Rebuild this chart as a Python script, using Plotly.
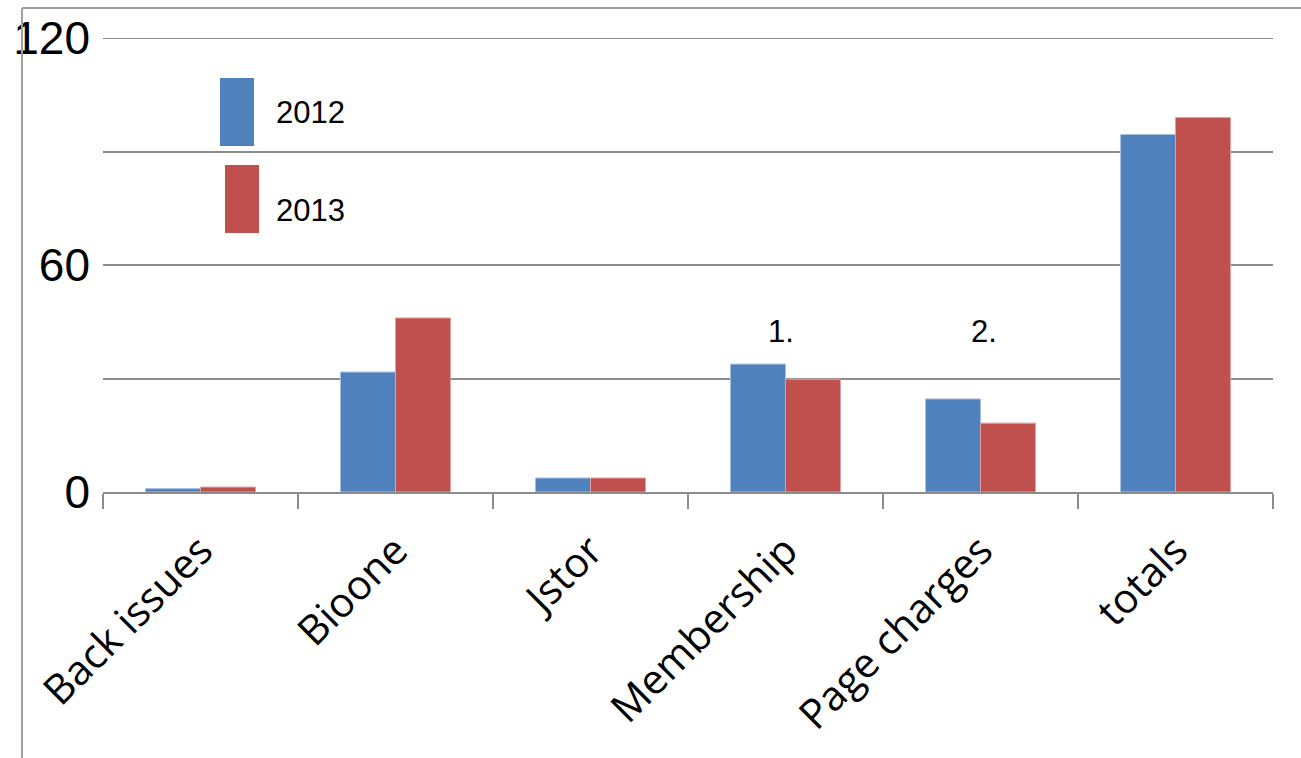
import plotly.graph_objects as go

categories = ["Back issues", "Bioone", "Jstor", "Membership", "Page charges", "totals"]
values_2012 = [0.9, 31.7, 3.7, 33.8, 24.6, 94.5]
values_2013 = [1.3, 46.0, 3.7, 29.8, 18.2, 99.0]
series_names = ["2012", "2013"]
y_tickvals = [0, 30, 60, 90, 120]
y_ticktext = ["0", "", "60", "", "120"]
notes = [("Membership", "1."), ("Page charges", "2.")]

BLUE = "#4F81BD"
RED = "#C0504D"
GRID = "#8C8C8C"

# plot area in pixels
L, R, T, B = 103, 1273, 38, 492
W, H = 1301, 758


def px(x):
    return (x - L) / (R - L)


def py(y):
    return (B - y) / (B - T)


fig = go.Figure()
fig.add_trace(go.Bar(x=categories, y=values_2012, name=series_names[0],
                     marker=dict(color=BLUE, line=dict(color="#A9C1E0", width=1))))
fig.add_trace(go.Bar(x=categories, y=values_2013, name=series_names[1],
                     marker=dict(color=RED, line=dict(color="#E3A09E", width=1))))

shapes = [
    # outer frame lines
    dict(type="line", xref="paper", yref="paper", x0=px(22), x1=px(22), y0=py(8), y1=py(W),
         line=dict(color="#A0A0A0", width=2)),
    dict(type="line", xref="paper", yref="paper", x0=px(22), x1=px(1310), y0=py(8), y1=py(8),
         line=dict(color="#A0A0A0", width=2)),
    # top gridline (at the range edge)
    dict(type="line", xref="paper", yref="y", x0=0, x1=1, y0=y_tickvals[-1], y1=y_tickvals[-1],
         line=dict(color=GRID, width=2), layer="below"),
    # legend swatches
    dict(type="rect", xref="paper", yref="paper", x0=px(220), x1=px(254), y0=py(146), y1=py(78),
         fillcolor=BLUE, line=dict(width=0), layer="above"),
    dict(type="rect", xref="paper", yref="paper", x0=px(225), x1=px(259), y0=py(233), y1=py(165),
         fillcolor=RED, line=dict(width=0), layer="above"),
]

LEG_FONT = dict(family="Liberation Sans, Arial", size=31, color="black")
annotations = [
    dict(xref="paper", yref="paper", x=px(274), y=py(113), text=series_names[0], showarrow=False,
         xanchor="left", yanchor="middle", font=LEG_FONT),
    dict(xref="paper", yref="paper", x=px(274), y=py(211), text=series_names[1], showarrow=False,
         xanchor="left", yanchor="middle", font=LEG_FONT),
]
note_px = {"1.": (781, 331), "2.": (984, 331)}
for cat, txt in notes:
    xx, yy = note_px[txt]
    annotations.append(dict(xref="paper", yref="paper", x=px(xx), y=py(yy), text=txt, showarrow=False,
                            xanchor="center", yanchor="middle", font=LEG_FONT))

fig.update_layout(
    width=W, height=H,
    margin=dict(l=L, r=W - R, t=T, b=H - B, pad=0),
    paper_bgcolor="white", plot_bgcolor="white",
    barmode="group", bargap=0.436, bargroupgap=0,
    showlegend=False,
    shapes=shapes,
    annotations=annotations,
)
fig.update_xaxes(
    showgrid=False, showline=True, linecolor=GRID, linewidth=2,
    ticks="outside", tickson="boundaries", ticklen=15, tickwidth=2, tickcolor=GRID,
    tickangle=-45, tickfont=dict(family="Open Sans", size=41, color="black"),
    ticklabelstandoff=16,
    zeroline=False,
)
fig.update_yaxes(
    range=[0, 120], tickvals=y_tickvals, ticktext=y_ticktext,
    showgrid=True, gridcolor=GRID, gridwidth=2, zeroline=False, showline=False,
    ticks="", tickfont=dict(family="Liberation Sans, Arial", size=46, color="black"),
    ticklabelstandoff=12,
)

fig.write_html("out.html")
